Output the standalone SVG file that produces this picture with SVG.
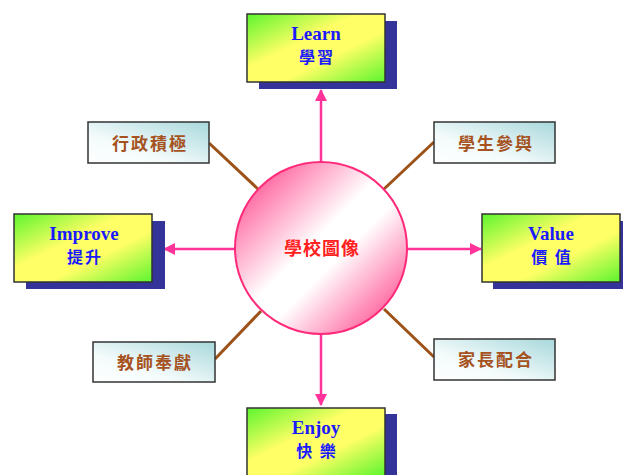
<svg xmlns="http://www.w3.org/2000/svg" width="623" height="475" viewBox="0 0 623 475">
<defs>
<linearGradient id="gBig" x1="0" y1="0" x2="1" y2="1">
<stop offset="0" stop-color="#5cf52e"/>
<stop offset="0.4" stop-color="#ffff66"/>
<stop offset="0.62" stop-color="#ffff66"/>
<stop offset="1" stop-color="#5cf52e"/>
</linearGradient>
<linearGradient id="gSmall" x1="0" y1="1" x2="1" y2="0">
<stop offset="0" stop-color="#ffffff"/>
<stop offset="0.35" stop-color="#f4fbfb"/>
<stop offset="1" stop-color="#a8d8dc"/>
</linearGradient>
<linearGradient id="gCircle" x1="0.1" y1="0.1" x2="0.9" y2="0.9">
<stop offset="0" stop-color="#ff5c99"/>
<stop offset="0.45" stop-color="#ffffff"/>
<stop offset="0.6" stop-color="#ffffff"/>
<stop offset="1" stop-color="#ff5c99"/>
</linearGradient>
<marker id="ah" viewBox="0 0 12 12" refX="11" refY="6" markerWidth="12" markerHeight="12" markerUnits="userSpaceOnUse" orient="auto">
<path d="M0,0 L12,6 L0,12 Z" fill="#ff3399"/>
</marker>
</defs>
<style>
.shadow{fill:#333399}
.big{fill:url(#gBig);stroke:#333;stroke-width:1.5}
.small{fill:url(#gSmall);stroke:#333;stroke-width:1.5}
.en{font-family:"Liberation Serif","Noto Sans CJK TC",serif;font-weight:bold;font-size:19px;fill:#1a1aff;text-anchor:middle}
.zh{font-family:"Noto Sans CJK TC","Liberation Serif",serif;font-weight:bold;font-size:16px;fill:#1a1aff;text-anchor:middle;letter-spacing:2px}
.br{font-family:"Noto Sans CJK TC","Liberation Serif",serif;font-weight:bold;font-size:17px;fill:#a5521f;text-anchor:middle;letter-spacing:2px}
.ctr{font-family:"Noto Sans CJK TC","Liberation Serif",serif;font-weight:bold;font-size:18px;fill:#ff2020;text-anchor:middle;letter-spacing:1px}
.brl{stroke:#9c5218;stroke-width:3;fill:none}
.arr{stroke:#ff3399;stroke-width:2.5;fill:none;marker-end:url(#ah)}
</style>
<g id="connectors">
<line class="brl" x1="209" y1="143" x2="258" y2="189"/>
<line class="brl" x1="434" y1="142" x2="384" y2="189"/>
<line class="brl" x1="215" y1="359" x2="261" y2="311"/>
<line class="brl" x1="434" y1="357" x2="384" y2="309"/>
<line class="arr" x1="321" y1="162" x2="321" y2="90"/>
<line class="arr" x1="235" y1="249" x2="164" y2="249"/>
<line class="arr" x1="407" y1="249" x2="481" y2="249"/>
<line class="arr" x1="321" y1="334" x2="321" y2="405"/>
</g>
<g id="center">
<circle cx="321" cy="248" r="86" fill="url(#gCircle)" stroke="#ff2a7a" stroke-width="2"/>
<text class="ctr" x="322" y="255">學校圖像</text>
</g>
<g id="learn">
<rect class="shadow" x="259" y="21" width="138" height="68"/>
<rect class="big" x="247" y="14" width="138" height="68"/>
<text class="en" x="316" y="40">Learn</text>
<text class="zh" x="317" y="63">學習</text>
</g>
<g id="improve">
<rect class="shadow" x="26" y="221" width="139" height="68"/>
<rect class="big" x="14" y="214" width="138" height="68"/>
<text class="en" x="84" y="240">Improve</text>
<text class="zh" x="85" y="263">提升</text>
</g>
<g id="value">
<rect class="shadow" x="493" y="221" width="138" height="68"/>
<rect class="big" x="482" y="214" width="138" height="68"/>
<text class="en" x="551" y="240">Value</text>
<text class="zh" x="552" y="263">價 值</text>
</g>
<g id="enjoy">
<rect class="shadow" x="259" y="414" width="138" height="68"/>
<rect class="big" x="247" y="408" width="138" height="68"/>
<text class="en" x="316" y="434">Enjoy</text>
<text class="zh" x="317" y="457">快 樂</text>
</g>
<g id="admin">
<rect class="small" x="88" y="122" width="121" height="41"/>
<text class="br" x="150" y="150">行政積極</text>
</g>
<g id="students">
<rect class="small" x="434" y="122" width="121" height="41"/>
<text class="br" x="496" y="150">學生參與</text>
</g>
<g id="teachers">
<rect class="small" x="93" y="342" width="122" height="40"/>
<text class="br" x="155" y="369">教師奉獻</text>
</g>
<g id="parents">
<rect class="small" x="434" y="339" width="121" height="41"/>
<text class="br" x="496" y="366">家長配合</text>
</g>
</svg>
